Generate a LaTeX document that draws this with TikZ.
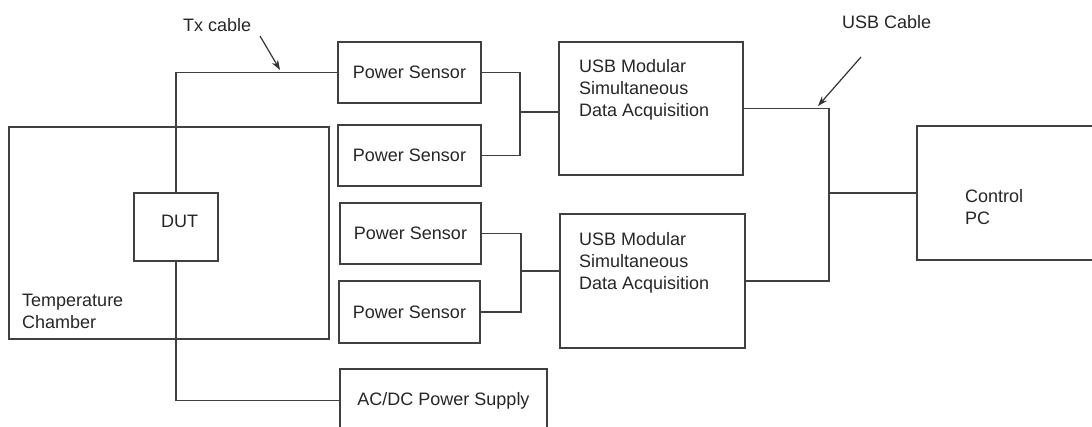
\documentclass[tikz,border=0pt]{standalone}
\usepackage{fontspec}
\setmainfont{Liberation Sans}
\usetikzlibrary{arrows.meta}
\begin{document}
\begin{tikzpicture}[x=1pt,y=-1pt,
  every node/.style={font=\fontsize{18}{22}\selectfont, text=black!85},
  box/.style={draw=black!75, line width=1.2pt, rectangle, inner sep=0pt},
  wire/.style={draw=black!75, line width=1.2pt},
  lbl/.style={inner sep=0pt, anchor=base west, align=left},
  pointer/.style={draw=black!80, line width=1.2pt, -{Stealth[length=10pt,width=7pt]}}]
\useasboundingbox (0,0) rectangle (1092,427);
\clip (0,0) rectangle (1092,427);
% boxes
\node[box, minimum width=320pt, minimum height=212pt] (chamber) at (169,233) {};
\node[box, minimum width=84pt, minimum height=68pt, fill=white] (dut) at (176,227) {};
\node[box, minimum width=143pt, minimum height=61pt] (ps1) at (409.5,72.5) {Power Sensor};
\node[box, minimum width=143pt, minimum height=61pt] (ps2) at (409.5,155.5) {Power Sensor};
\node[box, minimum width=141pt, minimum height=61pt] (ps3) at (410.5,233.5) {Power Sensor};
\node[box, minimum width=141pt, minimum height=62pt] (ps4) at (409.5,312) {Power Sensor};
\node[box, minimum width=184pt, minimum height=133pt] (daq1) at (651,108.5) {};
\node[box, minimum width=185pt, minimum height=134pt] (daq2) at (652.5,281) {};
\node[box, minimum width=207pt, minimum height=63pt] (psu) at (443.5,400.5) {AC/DC Power Supply};
\node[box, minimum width=183pt, minimum height=134pt] (pc) at (1008.5,193) {};
% labels (base = baseline of the last line)
\node[lbl] (chamberlbl) at (22,329) {Temperature\\Chamber};
\node[lbl] (dutlbl) at (161,228) {DUT};
\node[lbl] (daq1lbl) at (579,117) {USB Modular\\Simultaneous\\Data Acquisition};
\node[lbl] (daq2lbl) at (579,290) {USB Modular\\Simultaneous\\Data Acquisition};
\node[lbl] (pclbl) at (965,225) {Control\\PC};
\node[lbl] (txlbl) at (183,32) {Tx cable};
\node[lbl] (usblbl) at (842,29) {USB Cable};
% junction points
\coordinate (j1) at (520,112);
\coordinate (j2) at (521,271);
\coordinate (jusb) at (829,193);
\coordinate (txtip) at (280,70);
\coordinate (txtail) at (260,36);
\coordinate (usbtip) at (818,106);
\coordinate (usbtail) at (861,57);
% cables
\draw[wire] (dut.north) |- (ps1.west);
\draw[wire] (dut.south) |- (psu.west);
\draw[wire] (ps1.east) -| (j1) |- (ps2.east);
\draw[wire] (j1) -- (daq1.west |- j1);
\draw[wire] (ps3.east) -| (j2) |- (ps4.east);
\draw[wire] (j2) -- (daq2.west |- j2);
\draw[wire] (daq1.east) -| (jusb) |- (daq2.east);
\draw[wire] (jusb) -- (pc.west);
% pointers
\draw[pointer] (txtail) -- (txtip);
\draw[pointer] (usbtail) -- (usbtip);
\end{tikzpicture}
\end{document}
